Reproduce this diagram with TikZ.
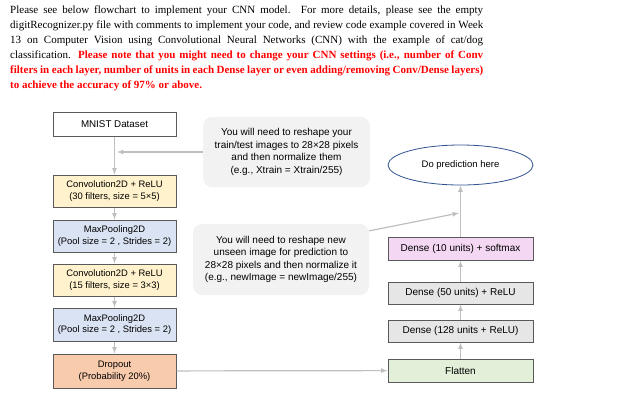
\documentclass[tikz,border=0pt]{standalone}
\usepackage{fontspec}
\setmainfont{Liberation Serif}
\setsansfont{Liberation Sans}
\usepackage{xcolor}
\usetikzlibrary{arrows,shapes.geometric}

\definecolor{boxline}{HTML}{595959}
\definecolor{arrowgray}{HTML}{BFBFBF}
\definecolor{notegray}{HTML}{F2F2F2}
\definecolor{convfill}{HTML}{FFF2CC}
\definecolor{poolfill}{HTML}{DAE3F3}
\definecolor{dropfill}{HTML}{F8CBAD}
\definecolor{flatfill}{HTML}{E2F0D9}
\definecolor{densefill}{HTML}{E7E6E6}
\definecolor{softfill}{HTML}{F4D7F2}
\definecolor{predline}{HTML}{2F528F}
\definecolor{warnred}{HTML}{FF0000}

\begin{document}
\begin{tikzpicture}[x=1pt,y=-1pt]
\tikzset{block/.style={draw=boxline,line width=1pt,align=center,inner sep=0pt,font=\sffamily\fontsize{9.4}{11.5}\selectfont}}
\tikzset{leftblock/.style={block,minimum width=123pt}}
\tikzset{rightblock/.style={block,minimum width=145pt,font=\sffamily\fontsize{10}{12}\selectfont}}
\tikzset{note/.style={fill=notegray,rounded corners=9pt,align=center,inner sep=0pt,font=\sffamily\fontsize{10}{12.5}\selectfont}}
\tikzset{flow/.style={draw=arrowgray,line width=1.2pt,-latex}}

\useasboundingbox (0,0) rectangle (621,400);

% text above the chart
\node[anchor=north west,inner sep=0pt,text width=473pt,align=justify,font=\fontsize{11}{15}\selectfont] (intro) at (10,6)
{Please see below flowchart to implement your CNN model. For more details, please see the empty\linebreak
digitRecognizer.py file with comments to implement your code, and review code example covered in Week\linebreak
13 on Computer Vision using Convolutional Neural Networks (CNN) with the example of cat/dog\linebreak
classification. \textcolor{warnred}{\textbf{Please note that you might need to change your CNN settings (i.e., number of Conv\linebreak
filters in each layer, number of units in each Dense layer or even adding/removing Conv/Dense layers)\linebreak
to achieve the accuracy of 97\% or above.}}};

% left column
\node[leftblock,minimum height=24pt,fill=white,font=\sffamily\fontsize{9.8}{11}\selectfont] (mnist) at (114.5,124) {MNIST Dataset};
\node[leftblock,minimum height=32pt,fill=convfill] (convA) at (114.5,191) {Convolution2D + ReLU\\(30 filters, size = 5×5)};
\node[leftblock,minimum height=32pt,fill=poolfill] (poolA) at (114.5,236) {MaxPooling2D\\(Pool size = 2 , Strides = 2)};
\node[leftblock,minimum height=32pt,fill=convfill] (convB) at (114.5,280) {Convolution2D + ReLU\\(15 filters, size = 3×3)};
\node[leftblock,minimum height=33pt,fill=poolfill] (poolB) at (114.5,324.5) {MaxPooling2D\\(Pool size = 2 , Strides = 2)};
\node[leftblock,minimum height=34pt,fill=dropfill] (dropout) at (114.5,371) {Dropout\\(Probability 20\%)};

% right column
\node[draw=predline,line width=0.8pt,ellipse,minimum width=145pt,minimum height=40pt,inner sep=0pt,font=\sffamily\fontsize{9.5}{11}\selectfont] (predict) at (460.5,165) {Do prediction here};
\node[rightblock,minimum height=23pt,fill=softfill] (dense) at (460.5,248.5) {Dense (10 units) + softmax};
\node[rightblock,minimum height=22pt,fill=densefill] (denseB) at (460.5,293) {Dense (50 units) + ReLU};
\node[rightblock,minimum height=22pt,fill=densefill] (denseA) at (460.5,331) {Dense (128 units + ReLU)};
\node[rightblock,minimum height=23pt,fill=flatfill] (flatten) at (460.5,370.5) {Flatten};

% notes
\node[note,minimum width=167pt,minimum height=70pt] (noteA) at (286.5,152)
{You will need to reshape your\\train/test images to 28×28 pixels\\and then normalize them\\(e.g., Xtrain = Xtrain/255)};
\node[note,minimum width=176pt,minimum height=71pt] (noteB) at (281,259.5)
{You will need to reshape new\\unseen image for prediction to\\28×28 pixels and then normalize it\\(e.g., newImage = newImage/255)};

\coordinate (joinA) at (117,152);
\coordinate (joinB) at (459,213);

\draw[flow] (mnist) -- (convA);
\draw[flow] (convA) -- (poolA);
\draw[flow] (poolA) -- (convB);
\draw[flow] (convB) -- (poolB);
\draw[flow] (poolB) -- (dropout);
\draw[flow] (dropout) -- (flatten);
\draw[flow] (flatten) -- (denseA);
\draw[flow] (denseA) -- (denseB);
\draw[flow] (denseB) -- (dense);
\draw[flow] (dense) -- (predict);
\draw[flow] (noteA.west) -- (joinA);
\draw[flow] (noteB.18) -- (joinB);

\end{tikzpicture}
\end{document}
